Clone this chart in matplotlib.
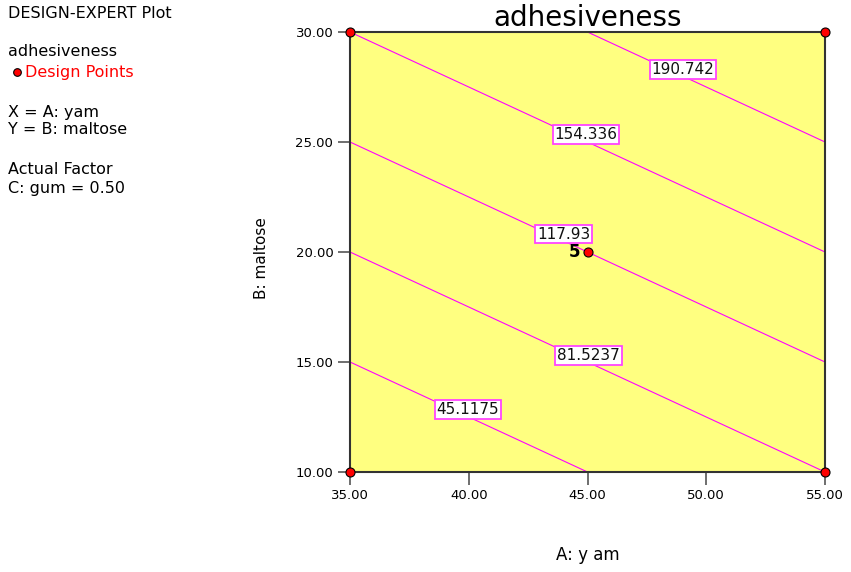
import numpy as np
import matplotlib
matplotlib.use("Agg")
import matplotlib.pyplot as plt

# Fitted linear model for adhesiveness (C: gum held at 0.50)
center_a, center_b = 45.0, 20.0
intercept = 117.93
coef_a = 3.6406      # per unit of A: yam
coef_b = 7.2812      # per unit of B: maltose

contour_levels = [45.1175, 81.5237, 117.93, 154.336, 190.742]
label_x = [39.97, 45.05, 44.0, 44.94, 49.02]

design_x = [35.0, 35.0, 55.0, 55.0, 45.0]
design_y = [10.0, 30.0, 10.0, 30.0, 20.0]
center_replicates = 5

x_ticks = [35.0, 40.0, 45.0, 50.0, 55.0]
y_ticks = [10.0, 15.0, 20.0, 25.0, 30.0]


def response(a, b):
    return intercept + coef_a * (a - center_a) + coef_b * (b - center_b)


W, H = 851, 572
fig = plt.figure(figsize=(W / 100, H / 100), dpi=100)
ax = fig.add_axes([350 / W, 1 - 472 / H, 475 / W, 440 / H])
ax.set_facecolor("#ffff80")

xa = np.linspace(35, 55, 201)
yb = np.linspace(10, 30, 201)
XA, YB = np.meshgrid(xa, yb)
Z = response(XA, YB)
ax.contour(XA, YB, Z, levels=contour_levels, colors="#ff00ff", linewidths=0.8)

# contour value labels sitting on their lines
for lev, lx in zip(contour_levels, label_x):
    ly = center_b + (lev - intercept - coef_a * (lx - center_a)) / coef_b
    ax.annotate(f"{lev:g}", xy=(lx, ly), xytext=(0, 5.0),
                textcoords="offset points", ha="center", va="center",
                fontsize=11, family="DejaVu Sans", color="#111111", zorder=5,
                bbox=dict(boxstyle="square,pad=0.12", facecolor="white",
                          edgecolor="#ff44ff", linewidth=1.3))

# design points
ax.plot(design_x, design_y, "o", color="red", markeredgecolor="black",
        markeredgewidth=0.8, markersize=6.5, clip_on=False, zorder=6)
ax.text(45.0 - 0.3, 20.0, str(center_replicates), ha="right", va="center",
        fontsize=12, fontweight="bold", family="DejaVu Sans", zorder=6)

ax.set_xlim(35, 55)
ax.set_ylim(10, 30)
ax.set_xticks(x_ticks)
ax.set_yticks(y_ticks)
ax.set_xticklabels([f"{v:.2f}" for v in x_ticks])
ax.set_yticklabels([f"{v:.2f}" for v in y_ticks])
ax.tick_params(direction="out", length=9, width=1.2, color="#555555",
               labelsize=9.5, pad=3)
for lab in ax.get_xticklabels() + ax.get_yticklabels():
    lab.set_family("DejaVu Sans")
for sp in ax.spines.values():
    sp.set_color("#333333")
    sp.set_linewidth(1.5)

ax.set_title("adhesiveness", fontsize=20, family="DejaVu Sans", pad=3)

fig.text(588 / W, 1 - 555 / H, "A: y am", ha="center", va="center",
         fontsize=12, family="DejaVu Sans")
fig.text(262 / W, 1 - 258 / H, "B: maltose", ha="center", va="center",
         rotation=90, fontsize=11, family="DejaVu Sans")

# side information panel
side = dict(fontsize=11.5, family="DejaVu Sans", va="center", ha="left")
fig.text(8 / W, 1 - 14 / H, "DESIGN-EXPERT Plot", **side)
fig.text(8 / W, 1 - 51 / H, "adhesiveness", **side)
fig.text(25 / W, 1 - 72 / H, "Design Points", color="red", **side)
fig.add_artist(plt.Line2D([17 / W], [1 - 72 / H], marker="o", color="red",
                          markeredgecolor="black", markeredgewidth=0.8,
                          markersize=5.5, transform=fig.transFigure))
fig.text(8 / W, 1 - 112 / H, "X = A: yam", **side)
fig.text(8 / W, 1 - 130 / H, "Y = B: maltose", **side)
fig.text(8 / W, 1 - 170 / H, "Actual Factor", **side)
fig.text(8 / W, 1 - 189 / H, "C: gum = 0.50", **side)

fig.savefig("out.png", dpi=100)
